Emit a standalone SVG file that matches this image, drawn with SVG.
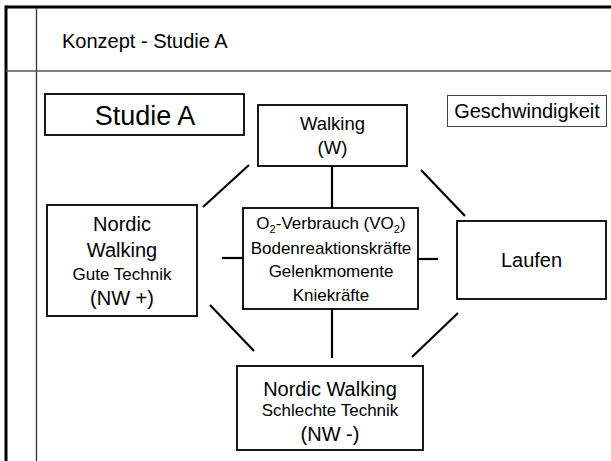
<svg xmlns="http://www.w3.org/2000/svg" width="611" height="461" viewBox="0 0 611 461">
<style>
.box{fill:#fff;stroke:#000;stroke-width:1.8}
.thin{fill:#fff;stroke:#444;stroke-width:1}
.t{font-family:"Liberation Sans",Arial,sans-serif;fill:#000;text-anchor:middle}
.conn line{stroke:#000;stroke-width:2.2}
</style>
<rect width="611" height="461" fill="#fff"/>
<g id="frame">
<line x1="6" y1="7" x2="611" y2="7" stroke="#000" stroke-width="3"/>
<line x1="6" y1="5.5" x2="6" y2="461" stroke="#000" stroke-width="3"/>
<line x1="36.5" y1="8" x2="36.5" y2="461" stroke="#333" stroke-width="1.3"/>
<line x1="6" y1="71" x2="611" y2="71" stroke="#555" stroke-width="1.5"/>
<text x="62" y="48" font-family="Liberation Sans, Arial, sans-serif" font-size="20">Konzept - Studie A</text>
</g>
<g class="conn" id="connectors">
<line x1="332" y1="166" x2="332" y2="208"/>
<line x1="332" y1="309" x2="332" y2="358"/>
<line x1="222" y1="258" x2="243" y2="258"/>
<line x1="418" y1="259" x2="438" y2="259"/>
<line x1="249" y1="165" x2="203" y2="207"/>
<line x1="421" y1="170" x2="465" y2="216"/>
<line x1="210" y1="305" x2="254" y2="351"/>
<line x1="458" y1="313" x2="412" y2="357"/>
</g>
<g id="studieA">
<rect class="box" x="45" y="94" width="199" height="41"/>
<text class="t" x="145" y="125" font-size="27">Studie A</text>
</g>
<g id="geschwindigkeit">
<rect class="thin" x="447.5" y="95.5" width="159" height="31"/>
<text class="t" x="527" y="118" font-size="20">Geschwindigkeit</text>
</g>
<g id="walking">
<rect class="box" x="258" y="105" width="149" height="61"/>
<text class="t" x="332.5" y="130" font-size="18.5">Walking</text>
<text class="t" x="332.5" y="154" font-size="18.5">(W)</text>
</g>
<g id="nwplus">
<rect class="box" x="47" y="205" width="150" height="111"/>
<text class="t" x="122" y="231" font-size="20">Nordic</text>
<text class="t" x="122" y="257" font-size="20">Walking</text>
<text class="t" x="122" y="280" font-size="17">Gute Technik</text>
<text class="t" x="122" y="305" font-size="20">(NW +)</text>
</g>
<g id="center">
<rect class="box" x="243" y="208" width="175" height="101"/>
<text class="t" x="331" y="229" font-size="17">O<tspan font-size="11" dy="4">2</tspan><tspan dy="-4">-Verbrauch (VO</tspan><tspan font-size="11" dy="4">2</tspan><tspan dy="-4">)</tspan></text>
<text class="t" x="331" y="254" font-size="17">Bodenreaktionskräfte</text>
<text class="t" x="331" y="277" font-size="17">Gelenkmomente</text>
<text class="t" x="331" y="301" font-size="17">Kniekräfte</text>
</g>
<g id="laufen">
<rect class="box" x="457" y="221" width="149" height="78"/>
<text class="t" x="531.5" y="267" font-size="20">Laufen</text>
</g>
<g id="nwminus">
<rect class="box" x="237" y="366" width="186" height="84"/>
<text class="t" x="330" y="396" font-size="20">Nordic Walking</text>
<text class="t" x="330" y="416" font-size="17">Schlechte Technik</text>
<text class="t" x="330" y="441" font-size="20">(NW -)</text>
</g>
</svg>
